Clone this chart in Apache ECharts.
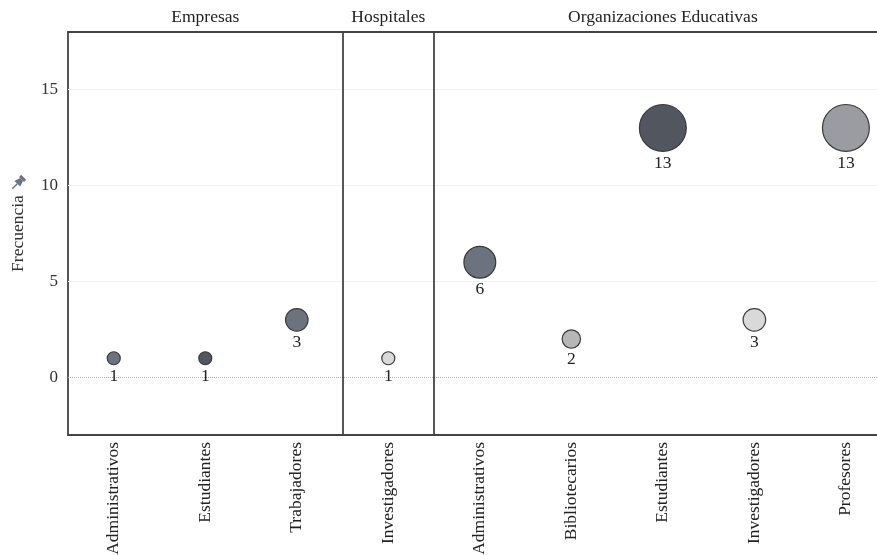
<!DOCTYPE html>
<html><head><meta charset="utf-8">
<script src="https://cdn.jsdelivr.net/npm/echarts@6/dist/echarts.min.js"></script>
<style>html,body{margin:0;padding:0;background:#fff;overflow:hidden}#c{width:877px;height:555px}</style>
</head><body><div id="c"></div>
<script>
const panels = ['Empresas','Empresas','Empresas','Hospitales','Organizaciones Educativas','Organizaciones Educativas','Organizaciones Educativas','Organizaciones Educativas','Organizaciones Educativas'];
const roles = ['Administrativos','Estudiantes','Trabajadores','Investigadores','Administrativos','Bibliotecarios','Estudiantes','Investigadores','Profesores'];
const counts = [1,1,3,1,6,2,13,3,13];
const yTicks = [0,5,10,15];
const panelNames = ['Empresas','Hospitales','Organizaciones Educativas'];
const roleColors = {Administrativos:'#6c727e', Estudiantes:'#52565f', Trabajadores:'#6c727e', Investigadores:'#d9d9d9', Bibliotecarios:'#b6b6b6', Profesores:'#9a9ca2'};

const FONT = 'Liberation Serif';
const idx = roles.map((r,i)=>i);
// panel boundaries (between categories where panel changes)
const boundaries = [];
for (let i=1;i<panels.length;i++) if (panels[i]!==panels[i-1]) boundaries.push(i-0.5);

const chart = echarts.init(document.getElementById('c'), null, {renderer:'canvas'});
const border = {color:'#444', width:1.8};
const X_MIN = -0.5, X_MAX = 8.34; // last column is cut by the right edge

const option = {
  animation:false,
  backgroundColor:'#fff',
  grid:{left:68, right:0, top:32, bottom:120, containLabel:false, outerBoundsMode:'none'},
  xAxis:[{
    type:'value', min:X_MIN, max:X_MAX, position:'bottom',
    axisLine:{show:true, onZero:false, lineStyle:border},
    axisTick:{show:false},
    axisLabel:{customValues:idx, rotate:90, fontFamily:FONT, fontSize:17.5, color:'#222', margin:7,
      formatter:v=>roles[Math.round(v)]},
    splitLine:{show:false}
  },{
    type:'value', min:X_MIN, max:X_MAX, position:'top',
    axisLine:{show:true, onZero:false, lineStyle:border}, axisTick:{show:false}, axisLabel:{show:false}, splitLine:{show:false}
  }],
  yAxis:{
    type:'value', min:-3, max:18, interval:1,
    axisLine:{show:true, onZero:false, lineStyle:border}, axisTick:{show:false}, splitLine:{show:false},
    axisLabel:{fontFamily:FONT, fontSize:17, color:'#333', margin:10,
      formatter:v=>yTicks.includes(v)?String(v):''},
    name:'Frecuencia', nameLocation:'middle', nameGap:41, nameRotate:90,
    nameTextStyle:{fontFamily:FONT, fontSize:17.5, color:'#333'}
  },
  series:[{
    type:'scatter',
    data:counts.map((v,i)=>({value:[i,v], itemStyle:{color:roleColors[roles[i]]}})),
    symbolSize:(val)=>13*Math.sqrt(val[1]),
    itemStyle:{borderColor:'#3a3a3a', borderWidth:1.2, opacity:1},
    label:{show:true, position:'bottom', distance:2, formatter:p=>String(p.value[1]),
      fontFamily:FONT, fontSize:17.5, color:'#222'},
    markLine:{silent:true, symbol:'none', label:{show:false},
      data:yTicks.map(t=>({yAxis:t, lineStyle: t===0 ? {color:'#aaa', type:'dotted', width:1} : {color:'#f1f1f1', type:'solid', width:1}}))
        .concat(boundaries.map(b=>({xAxis:b, lineStyle:{color:'#444', type:'solid', width:1.8}})))},
    z:5
  }]
};
chart.setOption(option);

// panel headers & pin icon
const graphics = [];
panelNames.forEach(p=>{
  const ids = panels.map((x,i)=>x===p?i:-1).filter(i=>i>=0);
  const a = chart.convertToPixel({xAxisIndex:0}, ids[0]);
  const b = chart.convertToPixel({xAxisIndex:0}, ids[ids.length-1]);
  graphics.push({type:'text', x:(a+b)/2, y:17, style:{text:p, fontFamily:FONT, fontSize:17.5, fill:'#222', align:'center', verticalAlign:'middle'}});
});
graphics.push({type:'group', x:18, y:183, rotation:-Math.PI/4, children:[
  {type:'rect', shape:{x:-3.5, y:-8, width:7, height:3}, style:{fill:'#6b7280'}},
  {type:'polygon', shape:{points:[[-2,-5],[2,-5],[4,1],[-4,1]]}, style:{fill:'#6b7280'}},
  {type:'line', shape:{x1:0, y1:1, x2:0, y2:8}, style:{stroke:'#6b7280', lineWidth:1.4}}
]});
chart.setOption({graphic:graphics});
</script></body></html>
